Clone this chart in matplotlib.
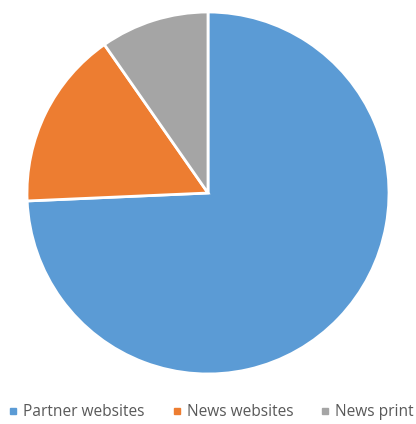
import matplotlib
matplotlib.use("Agg")
from matplotlib import pyplot as plt
from matplotlib.lines import Line2D

labels = ["Partner websites", "News websites", "News print"]
shares = [74.3, 16.0, 9.7]
colors = ["#5B9BD5", "#ED7D31", "#A5A5A5"]

W, H = 416, 424
fig = plt.figure(figsize=(W / 100, H / 100), dpi=100)
fig.patch.set_facecolor("white")

# pie area in pixels: left 27, top 12, size 362
ax = fig.add_axes([27 / W, (H - 12 - 362) / H, 362 / W, 362 / H])
wedges, _ = ax.pie(shares, colors=colors, startangle=90, counterclock=False,
                   wedgeprops=dict(edgecolor="white", linewidth=2))
for w in wedges:
    w.set_clip_on(False)
ax.set_xlim(-1, 1)
ax.set_ylim(-1, 1)
ax.set_aspect("equal")

handles = [Line2D([], [], marker="s", linestyle="none", markersize=4.5,
                  markerfacecolor=c, markeredgecolor=c) for c in colors]
fig.legend(handles, labels, loc="center left", ncol=3, frameon=False,
           bbox_to_anchor=(10 / W, 1 - 412 / H), handlelength=0.4,
           handletextpad=0.45, columnspacing=1.85,
           prop=dict(family="Open Sans", size=11.2), labelcolor="#595959",
           borderaxespad=0, borderpad=0)

fig.savefig("out.png", dpi=100)
